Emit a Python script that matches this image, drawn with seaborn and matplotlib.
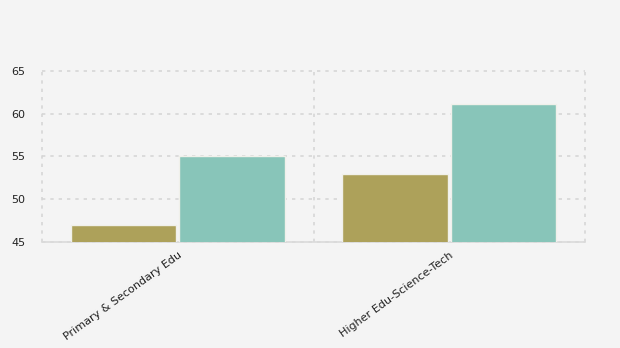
import matplotlib
matplotlib.use("Agg")
import matplotlib.pyplot as plt
import seaborn as sns
import pandas as pd
from matplotlib.ticker import FixedLocator

categories = ["Primary & Secondary Edu", "Higher Edu-Science-Tech"]
series_names = ["Series A", "Series B"]
series_a = [47.0, 52.9]
series_b = [55.0, 61.1]
y_ticks = [45, 50, 55, 60, 65]

df = pd.DataFrame({
    "category": categories * 2,
    "series": [series_names[0]] * 2 + [series_names[1]] * 2,
    "value": series_a + series_b,
})

sns.set_theme(style="white")
plt.rcParams["font.family"] = ["DejaVu Sans"]

bg = "#f4f4f4"
fig = plt.figure(figsize=(6.2, 3.48), dpi=100, facecolor=bg)
ax = fig.add_axes([42 / 620, 1 - 242 / 348, (585 - 42) / 620, (242 - 71) / 348])
ax.set_facecolor(bg)

palette = {series_names[0]: "#ada15a", series_names[1]: "#88c5b9"}
sns.barplot(data=df, x="category", y="value", hue="series", palette=palette,
            width=0.8, gap=0.025, edgecolor="#f0f0ea", linewidth=1.0,
            saturation=1.0, legend=False, ax=ax, zorder=3)

ax.set_ylim(45, 65)
ax.set_xlim(-0.5, 1.5)
ax.set_yticks(y_ticks)
ax.xaxis.set_minor_locator(FixedLocator([-0.5, 0.5, 1.5]))
ax.grid(False)
ax.grid(True, axis="y", which="major", linestyle=(0, (2, 3)), color="#d6d6d6", linewidth=1.2, zorder=0)
ax.grid(True, axis="x", which="minor", linestyle=(0, (2, 3)), color="#d6d6d6", linewidth=1.2, zorder=0)
for t in ax.xaxis.get_minor_ticks():
    t.gridline.set_clip_on(False)
for t in ax.yaxis.get_major_ticks():
    t.gridline.set_clip_on(False)
for s in ["top", "right", "left"]:
    ax.spines[s].set_visible(False)
ax.spines["bottom"].set_color("#dadada")
ax.spines["bottom"].set_linewidth(1.2)

ax.set_xlabel("")
ax.set_ylabel("")
ax.tick_params(axis="y", which="both", length=0, labelsize=8, colors="#222222", pad=12)
ax.tick_params(axis="x", which="major", length=5, color="#dadada", width=1, labelsize=8, labelcolor="#222222", pad=1)
ax.tick_params(axis="x", which="minor", length=0)
for lab in ax.get_xticklabels():
    lab.set_rotation(36)
    lab.set_ha("right")
    lab.set_rotation_mode("anchor")

fig.savefig("out.png", dpi=100, facecolor=bg)
